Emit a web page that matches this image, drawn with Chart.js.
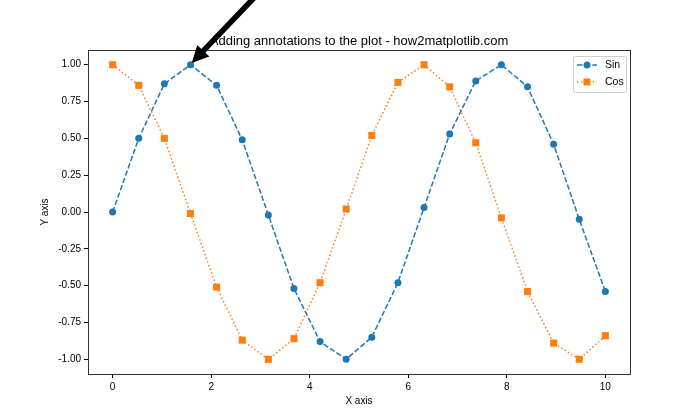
<!DOCTYPE html>
<html>
<head>
<meta charset="utf-8">
<script src="https://cdn.jsdelivr.net/npm/chart.js@4"></script>
<style>
html,body{margin:0;padding:0;background:#fff;}
#wrap{width:700px;height:420px;}
</style>
</head>
<body>
<div id="wrap"><canvas id="chart" width="700" height="420"></canvas></div>
<script>
// values
let xValues=[0,0.53,1.05,1.58,2.11,2.63,3.16,3.68,4.21,4.74,5.26,5.79,6.32,6.84,7.37,7.89,8.42,8.95,9.47,10];
let sinValues=[0,0.50,0.87,1.00,0.86,0.49,-0.02,-0.52,-0.88,-1.00,-0.85,-0.48,0.03,0.53,0.89,1.00,0.85,0.46,-0.05,-0.54];
let cosValues=[1.00,0.86,0.50,-0.01,-0.51,-0.87,-1.00,-0.86,-0.48,0.02,0.52,0.88,1.00,0.85,0.47,-0.04,-0.54,-0.89,-1.00,-0.84];
let seriesNames=["Sin","Cos"];
let xTicks=[0,2,4,6,8,10];
let yTicks=[-1,-0.75,-0.5,-0.25,0,0.25,0.5,0.75,1];
let arrowTip=[1.5708,1];
let arrowTail=[3,1.5];

let font="'Liberation Sans', Arial, sans-serif";
let blue="#1f77b4";
let orange="#ff7f0e";

function pts(ys){
return xValues.map((x,i)=>({x:x,y:ys[i]}));
}

let framePlugin={
id:"frame",
afterDatasetsDraw(chart){
let ctx=chart.ctx;
let a=chart.chartArea;
ctx.save();
ctx.strokeStyle="#000";
ctx.lineWidth=0.8;
ctx.strokeRect(Math.round(a.left)+0.5,Math.round(a.top)+0.5,Math.round(a.right-a.left),Math.round(a.bottom-a.top));

// annotation arrow
let xs=chart.scales.x, ys=chart.scales.y;
let tx=xs.getPixelForValue(arrowTip[0]), ty=ys.getPixelForValue(arrowTip[1]);
let sx=xs.getPixelForValue(arrowTail[0]), sy=ys.getPixelForValue(arrowTail[1]);
let dx=tx-sx, dy=ty-sy;
let len=Math.sqrt(dx*dx+dy*dy);
let ux=dx/len, uy=dy/len;
let x1=sx, y1=sy;
let x2=tx-ux*2.5, y2=ty-uy*2.5;
let w=5.6/2, hw=16.7/2, hl=16.7;
let px=-uy, py=ux;
let bx=x2-ux*hl, by=y2-uy*hl;
ctx.beginPath();
ctx.moveTo(x1+px*w,y1+py*w);
ctx.lineTo(bx+px*w,by+py*w);
ctx.lineTo(bx+px*hw,by+py*hw);
ctx.lineTo(x2,y2);
ctx.lineTo(bx-px*hw,by-py*hw);
ctx.lineTo(bx-px*w,by-py*w);
ctx.lineTo(x1-px*w,y1-py*w);
ctx.closePath();
ctx.fillStyle="#000";
ctx.fill();

// legend
let lx=573, ly=56, lw=53, lh=36;
ctx.fillStyle="rgba(255,255,255,0.8)";
ctx.strokeStyle="#cccccc";
ctx.lineWidth=1;
ctx.beginPath();
ctx.roundRect(lx+0.5,ly+0.5,lw,lh,2);
ctx.fill();
ctx.stroke();
chart.data.datasets.forEach((ds,i)=>{
let cy=65+i*17;
ctx.strokeStyle=ds.borderColor;
ctx.lineWidth=ds.borderWidth;
ctx.setLineDash(ds.borderDash);
ctx.beginPath();
ctx.moveTo(577,cy);
ctx.lineTo(597,cy);
ctx.stroke();
ctx.setLineDash([]);
ctx.fillStyle=ds.backgroundColor;
if(ds.pointStyle==="rect"){
ctx.fillRect(587-3.5,cy-3.5,7,7);
}else{
ctx.beginPath();
ctx.arc(587,cy,3.5,0,Math.PI*2);
ctx.fill();
}
ctx.fillStyle="#000";
ctx.font="10.5px "+font;
ctx.textBaseline="middle";
ctx.textAlign="left";
ctx.fillText(ds.label,605,cy);
});
ctx.restore();
}
};

new Chart(document.getElementById("chart"),{
type:"scatter",
data:{
datasets:[{
label:seriesNames[0],
data:pts(sinValues),
showLine:true,
borderColor:blue,
backgroundColor:blue,
borderWidth:1.5,
borderDash:[5.4,2.3],
pointStyle:"circle",
pointRadius:3.5,
pointBorderWidth:0,
pointHoverRadius:3.5
},{
label:seriesNames[1],
data:pts(cosValues),
showLine:true,
borderColor:orange,
backgroundColor:orange,
borderWidth:1.5,
borderDash:[1.5,2.4],
pointStyle:"rect",
pointRadius:5,
pointBorderWidth:0,
pointHoverRadius:5
}]
},
options:{
responsive:false,
animation:false,
layout:{padding:{left:0,right:70,top:0,bottom:0}},
plugins:{
legend:{display:false},
tooltip:{enabled:false},
title:{
display:true,
text:"Adding annotations to the plot - how2matplotlib.com",
fullSize:false,
color:"#000",
font:{family:font,size:13,weight:"normal"},
padding:{top:33.2,bottom:1.2}
}
},
scales:{
x:{
type:"linear",
min:-0.5,max:10.5,
border:{display:false},
grid:{drawOnChartArea:false,drawTicks:true,tickLength:4,tickColor:"#000"},
afterBuildTicks(s){s.ticks=xTicks.map(v=>({value:v}));},
afterFit(s){s.height=46;},
ticks:{color:"#000",font:{family:font,size:10},padding:3,maxRotation:0,callback:v=>String(v)},
title:{display:true,text:"X axis",color:"#000",font:{family:font,size:10},padding:{top:0,bottom:13}}
},
y:{
type:"linear",
min:-1.1,max:1.1,
border:{display:false},
grid:{drawOnChartArea:false,drawTicks:true,tickLength:4,tickColor:"#000"},
afterBuildTicks(s){s.ticks=yTicks.map(v=>({value:v}));},
afterFit(s){s.width=88;},
ticks:{color:"#000",font:{family:font,size:10},padding:3,callback:v=>v.toFixed(2)},
title:{display:true,text:"Y axis",color:"#000",font:{family:font,size:10},padding:{top:39,bottom:0}}
}
}
},
plugins:[framePlugin]
});
</script>
</body>
</html>
